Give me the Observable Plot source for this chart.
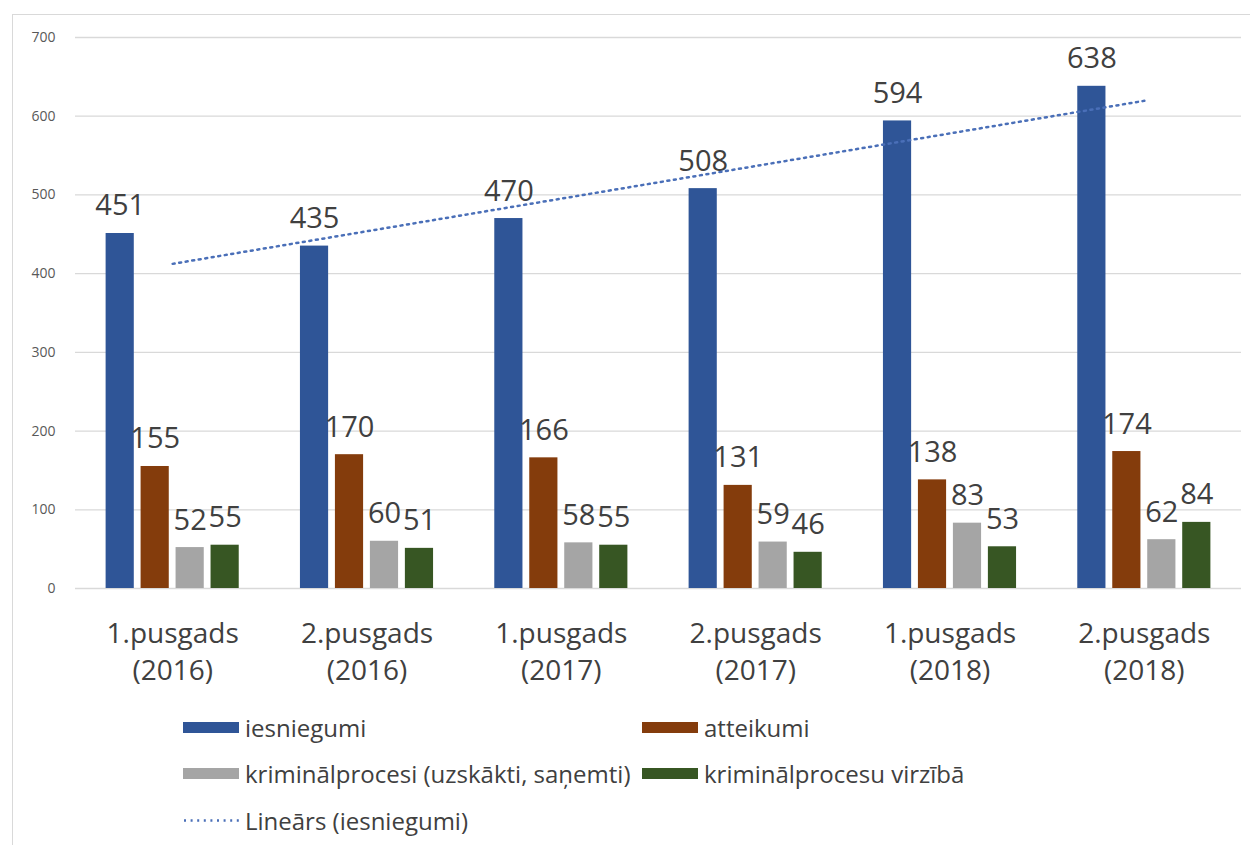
<!DOCTYPE html>
<html>
<head>
<meta charset="utf-8">
<script src="https://cdn.jsdelivr.net/npm/d3@7"></script>
<script src="https://cdn.jsdelivr.net/npm/@observablehq/plot@0.6"></script>
<style>
  html, body { margin: 0; padding: 0; background: #fff; }
  body { width: 1250px; height: 845px; position: relative; overflow: hidden; font-family: "Open Sans", sans-serif; }
  #frame { position: absolute; left: 12px; top: 14px; width: 1250px; height: 900px; border: 1px solid #d9d9d9; box-sizing: border-box; }
  #chart { position: absolute; left: 0; top: 0; }
  .leg { position: absolute; display: flex; align-items: center; height: 30px; font-size: 24px; color: #404040; white-space: nowrap; }
  .sw { width: 56px; height: 11px; margin-right: 6px; }
</style>
</head>
<body>
<div id="frame"></div>
<div id="chart"></div>
<div id="legend"></div>
<script>
// ---- data ----
const halves = ["1.pusgads", "2.pusgads", "1.pusgads", "2.pusgads", "1.pusgads", "2.pusgads"];
const years = ["2016", "2016", "2017", "2017", "2018", "2018"];
const seriesNames = ["iesniegumi", "atteikumi", "kriminālprocesi (uzskākti, saņemti)", "kriminālprocesu virzībā"];
const iesniegumi = [451, 435, 470, 508, 594, 638];
const atteikumi = [155, 170, 166, 131, 138, 174];
const kpUzsakti = [52, 60, 58, 59, 83, 62];
const kpVirziba = [55, 51, 55, 46, 53, 84];
const seriesColors = ["#2f5597", "#843c0c", "#a5a5a5", "#375623"];
const trendName = "Lineārs (iesniegumi)";
const yTicks = [0, 100, 200, 300, 400, 500, 600, 700];

// ---- build rows ----
const values = [iesniegumi, atteikumi, kpUzsakti, kpVirziba];
const rows = [];
values.forEach((arr, k) => arr.forEach((v, i) => rows.push({i: i + 1, k, s: seriesNames[k], v})));
const trendRows = iesniegumi.map((v, i) => ({i: i + 1, v}));

const step = 0.18, bw = 0.145;
const off = k => (k - 1.5) * step;

const chart = Plot.plot({
  width: 1250,
  height: 700,
  marginLeft: 75,
  marginRight: 9,
  marginTop: 37,
  marginBottom: 112,
  style: {fontFamily: "Open Sans, sans-serif", background: "transparent"},
  x: {domain: [0.5, 6.5]},
  y: {domain: [0, 700]},
  color: {domain: seriesNames, range: seriesColors},
  marks: [
    Plot.gridY(yTicks, {stroke: "#d9d9d9", strokeOpacity: 1, strokeWidth: 1.3}),
    Plot.axisY({ticks: yTicks, tickSize: 0, tickPadding: 20, fontSize: 14, fill: "#595959", label: null}),
    Plot.axisX({ticks: [1, 2, 3, 4, 5, 6], tickSize: 0, tickPadding: 28,
      tickFormat: t => halves[t - 1] + "\n(" + years[t - 1] + ")",
      fontSize: 28, lineHeight: 1.32, fill: "#404040", label: null}),
    Plot.rect(rows, {
      x1: d => d.i + off(d.k) - bw / 2,
      x2: d => d.i + off(d.k) + bw / 2,
      y1: 0, y2: "v", fill: "s"
    }),
    Plot.text(rows, {
      x: d => d.i + off(d.k), y: "v", text: d => String(d.v),
      dy: -18, lineAnchor: "bottom", fontSize: 29, fill: "#404040"
    }),
    Plot.linearRegressionY(trendRows, {x: "i", y: "v", ci: 0, stroke: "#4a6fb8",
      strokeWidth: 2.5, strokeDasharray: "2 4.6"})
  ]
});
document.getElementById("chart").appendChild(chart);

// ---- legend ----
const legendItems = [
  {name: seriesNames[0], color: seriesColors[0], x: 183, y: 727},
  {name: seriesNames[1], color: seriesColors[1], x: 642, y: 727},
  {name: seriesNames[2], color: seriesColors[2], x: 183, y: 773},
  {name: seriesNames[3], color: seriesColors[3], x: 642, y: 773},
  {name: trendName, color: null, x: 183, y: 820}
];
const leg = document.getElementById("legend");
legendItems.forEach(it => {
  const d = document.createElement("div");
  d.className = "leg";
  d.style.left = it.x + "px";
  d.style.top = (it.y - 15) + "px";
  if (it.color) {
    d.innerHTML = `<div class="sw" style="background:${it.color}"></div><span>${it.name}</span>`;
  } else {
    d.innerHTML = `<svg width="56" height="11" style="margin-right:6px"><line x1="1" x2="56" y1="5.5" y2="5.5" stroke="#4a6fb8" stroke-width="2.5" stroke-dasharray="2 4.6"/></svg><span>${it.name}</span>`;
  }
  leg.appendChild(d);
});
</script>
</body>
</html>
